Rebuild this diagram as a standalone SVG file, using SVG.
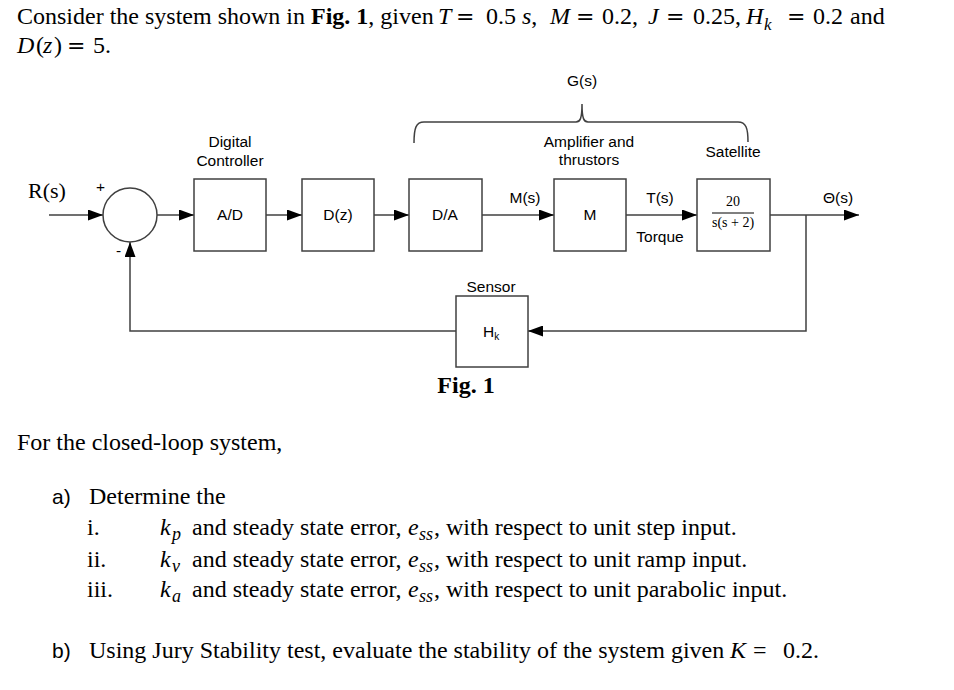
<svg xmlns="http://www.w3.org/2000/svg" width="954" height="690" viewBox="0 0 954 690">
<defs>
<style>
.t{font-family:"Liberation Serif","Times New Roman",serif;font-size:24px;fill:#000}
.m{font-family:"Liberation Serif","Times New Roman",serif;font-style:italic}
.eq{font-family:"DejaVu Serif",serif;font-size:22px}
.b{font-weight:bold}
.s{font-family:"Liberation Sans",Arial,sans-serif;font-size:15.5px;fill:#000}
.c{text-anchor:middle}
.box{fill:#fff;stroke:#404040;stroke-width:1.5}
.ln{fill:none;stroke:#404040;stroke-width:1.5}
</style>
<marker id="ah" viewBox="0 0 15 11" refX="15" refY="5.5" markerWidth="15" markerHeight="11" markerUnits="userSpaceOnUse" orient="auto">
<path d="M0,0 L15,5.5 L0,11 Z" fill="#000"/>
</marker>
</defs>
<rect width="954" height="690" fill="#fff"/>

<g id="header" class="t">
<text x="17" y="24">Consider the system shown in <tspan class="b">Fig. 1</tspan>, given</text>
<text y="24"><tspan x="438" class="m">T</tspan><tspan x="456" class="eq">=</tspan><tspan x="486">0.5</tspan><tspan x="522" class="m">s</tspan><tspan>,</tspan><tspan x="550" class="m">M</tspan><tspan x="576" class="eq">=</tspan><tspan x="602">0.2,</tspan><tspan x="648" class="m">J</tspan><tspan x="666" class="eq">=</tspan><tspan x="693">0.25,</tspan><tspan x="746" class="m">H</tspan><tspan x="764" y="30" class="m" style="font-size:17px">k</tspan><tspan x="787" y="24" class="eq">=</tspan><tspan x="813">0.2</tspan><tspan x="850">and</tspan></text>
<text y="53"><tspan x="17" class="m">D</tspan><tspan x="36">(</tspan><tspan x="43" class="m">z</tspan><tspan x="54">)</tspan><tspan x="67" class="eq">=</tspan><tspan x="93">5.</tspan></text>
</g>

<g id="connectors">
<path class="ln" d="M49,215 H103" marker-end="url(#ah)"/>
<path class="ln" d="M157,215 H194" marker-end="url(#ah)"/>
<path class="ln" d="M266,215 H302" marker-end="url(#ah)"/>
<path class="ln" d="M374,215 H409" marker-end="url(#ah)"/>
<path class="ln" d="M482,215 H554" marker-end="url(#ah)"/>
<path class="ln" d="M626,215 H697" marker-end="url(#ah)"/>
<path class="ln" d="M770,215 H859" marker-end="url(#ah)"/>
<path class="ln" d="M806,215 V331 H528" marker-end="url(#ah)"/>
<path class="ln" d="M456,331 H130 V242" marker-end="url(#ah)"/>
</g>

<g id="brace">
<path class="ln" d="M414,143 C414,128 416,122 424,122 H576 C580,122 582,119 582,104 C582,119 584,122 588,122 H738 C746,122 748,128 748,142"/>
<text class="s c" x="582" y="86">G(s)</text>
</g>

<g id="labels" class="s">
<text class="t" x="28" y="198" style="font-size:22px">R(s)</text>
<text x="96" y="192">+</text>
<text x="116" y="256">-</text>
<text class="c" x="525" y="203">M(s)</text>
<text class="c" x="660" y="203">T(s)</text>
<text class="c" x="660" y="242">Torque</text>
<text class="c" x="838" y="203">Θ(s)</text>
</g>

<g id="sum">
<circle class="box" cx="130" cy="215" r="27"/>
</g>

<g id="ad">
<text class="s c" x="230" y="147">Digital</text>
<text class="s c" x="230" y="166">Controller</text>
<rect class="box" x="194" y="179" width="72" height="72"/>
<text class="s c" x="230" y="220">A/D</text>
</g>

<g id="dz">
<rect class="box" x="302" y="179" width="72" height="72"/>
<text class="s c" x="338" y="220">D(z)</text>
</g>

<g id="da">
<rect class="box" x="409" y="179" width="73" height="72"/>
<text class="s c" x="445" y="220">D/A</text>
</g>

<g id="amp">
<text class="s c" x="589" y="147">Amplifier and</text>
<text class="s c" x="589" y="165">thrustors</text>
<rect class="box" x="554" y="179" width="72" height="72"/>
<text class="s c" x="590" y="220">M</text>
</g>

<g id="sat">
<text class="s c" x="733" y="157">Satellite</text>
<rect class="box" x="697" y="179" width="73" height="72"/>
<text class="t c" x="733" y="206" style="font-size:14px">20</text>
<line x1="712" y1="213" x2="754" y2="213" stroke="#000" stroke-width="1"/>
<text class="t c" x="733" y="227" style="font-size:14px">s(s + 2)</text>
</g>

<g id="sensor">
<text class="s c" x="491" y="292">Sensor</text>
<rect class="box" x="456" y="296" width="72" height="71"/>
<text class="s" x="483" y="337">H<tspan style="font-size:10px" dy="3">k</tspan></text>
</g>

<text class="t b c" x="466" y="393">Fig. 1</text>

<g id="questions" class="t">
<text x="17" y="450">For the closed-loop system,</text>
<text x="52" y="504" style="font-family:'Liberation Sans',Arial,sans-serif;font-size:21px">a)</text>
<text x="89" y="504">Determine the</text>
<text x="87" y="535">i.</text>
<text y="535"><tspan x="160" class="m">k</tspan><tspan x="172" class="m" style="font-size:18px" dy="5">p</tspan><tspan x="192" dy="-5">and steady state error,</tspan><tspan x="408" class="m">e</tspan><tspan x="419" class="m" style="font-size:18px" dy="5">ss</tspan><tspan x="434" dy="-5">, with respect to unit step input.</tspan></text>
<text x="87" y="567">ii.</text>
<text y="567"><tspan x="160" class="m">k</tspan><tspan x="172" class="m" style="font-size:18px" dy="5">v</tspan><tspan x="192" dy="-5">and steady state error,</tspan><tspan x="408" class="m">e</tspan><tspan x="419" class="m" style="font-size:18px" dy="5">ss</tspan><tspan x="434" dy="-5">, with respect to unit ramp input.</tspan></text>
<text x="87" y="597">iii.</text>
<text y="597"><tspan x="160" class="m">k</tspan><tspan x="172" class="m" style="font-size:18px" dy="5">a</tspan><tspan x="192" dy="-5">and steady state error,</tspan><tspan x="408" class="m">e</tspan><tspan x="419" class="m" style="font-size:18px" dy="5">ss</tspan><tspan x="434" dy="-5">, with respect to unit parabolic input.</tspan></text>
<text x="52" y="658" style="font-family:'Liberation Sans',Arial,sans-serif;font-size:21px">b)</text>
<text y="658"><tspan x="89">Using Jury Stability test, evaluate the stability of the system given</tspan><tspan x="730" class="m">K</tspan><tspan x="753">=</tspan><tspan x="783">0.2.</tspan></text>
</g>
</svg>
